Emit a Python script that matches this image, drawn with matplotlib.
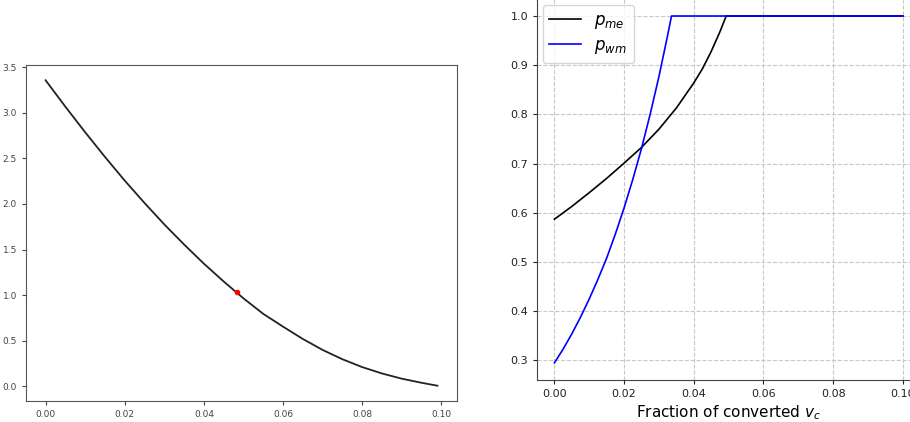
import numpy as np
import matplotlib.pyplot as plt

# left panel: curve
left_x = [0.000, 0.005, 0.010, 0.015, 0.020, 0.025, 0.030, 0.035, 0.040,
          0.045, 0.050, 0.055, 0.060, 0.065, 0.070, 0.075, 0.080, 0.085,
          0.090, 0.095, 0.099]
left_y = [3.355, 3.065, 2.785, 2.515, 2.255, 2.010, 1.775, 1.555, 1.345,
          1.150, 0.965, 0.795, 0.655, 0.520, 0.400, 0.298, 0.212, 0.142,
          0.085, 0.040, 0.008]
marker_x = [0.0484]
marker_y = [1.03]

# right panel
p_me_x = [0.0, 0.005, 0.010, 0.015, 0.020, 0.025, 0.030, 0.035, 0.040,
          0.0425, 0.045, 0.0475, 0.0493, 0.06, 0.08, 0.10]
p_me_y = [0.587, 0.613, 0.641, 0.670, 0.701, 0.733, 0.770, 0.813, 0.864,
          0.893, 0.928, 0.968, 1.0, 1.0, 1.0, 1.0]
p_wm_x = [0.0, 0.0025, 0.005, 0.0075, 0.010, 0.0125, 0.015, 0.0175, 0.020,
          0.0225, 0.025, 0.0275, 0.030, 0.0325, 0.0336, 0.06, 0.08, 0.10]
p_wm_y = [0.295, 0.323, 0.354, 0.388, 0.425, 0.465, 0.508, 0.557, 0.610,
          0.668, 0.731, 0.801, 0.877, 0.961, 1.0, 1.0, 1.0, 1.0]

fig = plt.figure(figsize=(9.1, 4.22), dpi=100)

ax1 = fig.add_axes([0.0286, 0.0498, 0.4736, 0.7962])
ax1.plot(left_x, left_y, color='#222222', lw=1.3)
ax1.plot(marker_x, marker_y, 'o', color='red', ms=3)
ax1.set_yticks([0.0, 0.5, 1.0, 1.5, 2.0, 2.5, 3.0, 3.5])
ax1.set_xticks([0.0, 0.02, 0.04, 0.06, 0.08, 0.10])
ax1.tick_params(labelsize=6.5, colors='#444444', length=3)
for s in ax1.spines.values():
    s.set_color('#555555')

ax2 = fig.add_axes([0.5901, 0.0991, 0.4212, 0.904])
ax2.plot(p_me_x, p_me_y, color='black', lw=1.2, label='$p_{me}$')
ax2.plot(p_wm_x, p_wm_y, color='blue', lw=1.2, label='$p_{wm}$')
ax2.set_xlim(-0.005, 0.105)
ax2.set_ylim(0.2598, 1.0352)
ax2.set_xticks([0.0, 0.02, 0.04, 0.06, 0.08, 0.10])
ax2.set_yticks([0.3, 0.4, 0.5, 0.6, 0.7, 0.8, 0.9, 1.0])
ax2.tick_params(labelsize=8, colors='#222222', length=3)
ax2.spines['top'].set_visible(False)
ax2.spines['right'].set_visible(False)
for s in ('left', 'bottom'):
    ax2.spines[s].set_color('#444444')
ax2.grid(True, ls='--', color='#c8c8c8', lw=0.8)
ax2.set_xlabel('Fraction of converted $v_c$', fontsize=11, labelpad=3)
ax2.legend(loc='upper left', fontsize=12, handlelength=1.9,
           labelspacing=0.3, borderaxespad=0.35)

fig.savefig('out.png', dpi=100)
